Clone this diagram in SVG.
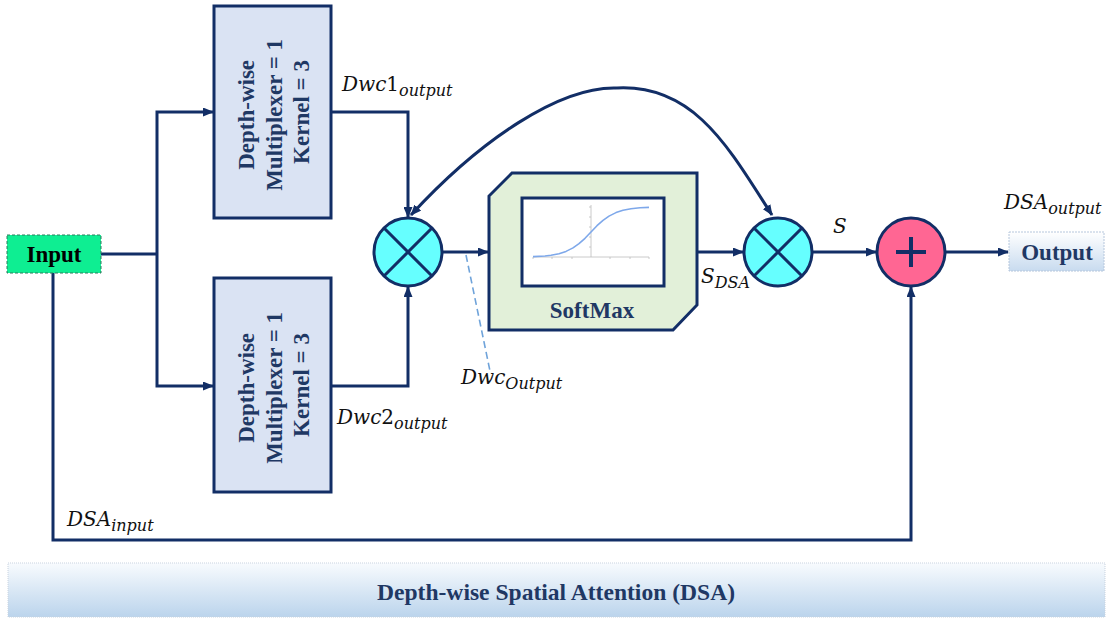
<svg xmlns="http://www.w3.org/2000/svg" width="1112" height="620" viewBox="0 0 1112 620">
  <style>
    .ln { fill: none; stroke: #122E66; stroke-width: 3; }
    .box { fill: #DAE3F3; stroke: #122E66; stroke-width: 3; }
    .boxtxt { font-family: "Liberation Serif", "Times New Roman", serif; font-weight: bold; font-size: 23px; fill: #1F3864; text-anchor: middle; }
    .math { font-family: "DejaVu Serif", "Liberation Serif", serif; font-style: italic; font-size: 20px; fill: #111; }
    .sub { font-size: 16px; }
    .up { font-style: normal; }
    .mul { fill: #66FFFF; stroke: #122E66; stroke-width: 3; }
    .mulx { stroke: #122E66; stroke-width: 3; }
  </style>
  <defs>
    <marker id="arr" markerUnits="userSpaceOnUse" markerWidth="11" markerHeight="9" refX="10" refY="4.5" orient="auto">
      <path d="M0,0 L11,4.5 L0,9 z" fill="#122E66"/>
    </marker>
    <linearGradient id="gOut" x1="0" y1="0" x2="0" y2="1">
      <stop offset="0" stop-color="#FFFFFF"/>
      <stop offset="1" stop-color="#C8DBEF"/>
    </linearGradient>
    <linearGradient id="gBanner" x1="0" y1="0" x2="0" y2="1">
      <stop offset="0" stop-color="#F8FBFE"/>
      <stop offset="1" stop-color="#BBD4EC"/>
    </linearGradient>
  </defs>

  <!-- connectors -->
  <g id="connectors">
    <path class="ln" d="M101,254 H157"/>
    <path class="ln" d="M157,254 V112 H213" marker-end="url(#arr)"/>
    <path class="ln" d="M157,254 V386 H213" marker-end="url(#arr)"/>
    <path class="ln" d="M331,112 H408 V217" marker-end="url(#arr)"/>
    <path class="ln" d="M331,386 H408 V287" marker-end="url(#arr)"/>
    <path class="ln" d="M442,252 H488" marker-end="url(#arr)"/>
    <path class="ln" d="M697,252 H743" marker-end="url(#arr)"/>
    <path class="ln" d="M812,252 H876" marker-end="url(#arr)"/>
    <path class="ln" d="M945,252 H1008" marker-end="url(#arr)"/>
    <path class="ln" d="M53,273 V540 H911 V287" marker-end="url(#arr)"/>
    <!-- arched link between the two multipliers, arrow at both ends -->
    <path class="ln" d="M617,88 C560,86 480,140 411,215" marker-end="url(#arr)"/>
    <path class="ln" d="M617,88 C695,84 730,150 772,215" marker-end="url(#arr)"/>
    <!-- callout for the multiplier output -->
    <path d="M466,255 L490,371" fill="none" stroke="#6FA3DA" stroke-width="1.6" stroke-dasharray="7,4"/>
  </g>

  <!-- input -->
  <g id="input">
    <rect x="7" y="235" width="94" height="38" fill="#0EEE92" stroke="#2C7A5C" stroke-width="1" stroke-dasharray="3,2"/>
    <text x="54" y="262" font-family="Liberation Serif, serif" font-weight="bold" font-size="23" text-anchor="middle" fill="#000">Input</text>
  </g>

  <!-- depth-wise convolution branches -->
  <g id="dwc1">
    <rect class="box" x="214" y="6" width="117" height="212"/>
    <text class="boxtxt" transform="translate(272,112) rotate(-90)">
      <tspan x="0" y="-18">Depth-wise</tspan>
      <tspan x="0" y="10">Multiplexer = 1</tspan>
      <tspan x="0" y="37">Kernel = 3</tspan>
    </text>
  </g>
  <g id="dwc2">
    <rect class="box" x="214" y="278" width="117" height="214"/>
    <text class="boxtxt" transform="translate(272,385) rotate(-90)">
      <tspan x="0" y="-18">Depth-wise</tspan>
      <tspan x="0" y="10">Multiplexer = 1</tspan>
      <tspan x="0" y="37">Kernel = 3</tspan>
    </text>
  </g>

  <!-- first multiplier -->
  <g id="mult1">
    <circle class="mul" cx="408" cy="252" r="34"/>
    <path class="mulx" d="M384,228 L432,276 M432,228 L384,276"/>
  </g>

  <!-- softmax block -->
  <g id="softmax">
    <polygon points="512,173 697,173 697,305 673,330 489,330 489,196" fill="#E2F0D9" stroke="#122E66" stroke-width="3"/>
    <rect x="522" y="198" width="142" height="88" fill="#FFFFFF" stroke="#122E66" stroke-width="3"/>
    <g stroke="#BDBDBD" stroke-width="0.8">
      <path d="M533,257 H649 M591,205 V257"/>
      <path d="M533,257 v2 M552,257 v2 M572,257 v2 M610,257 v2 M630,257 v2 M649,257 v2"/>
      <path d="M589,207 h2 M589,217 h2 M589,227 h2 M589,237 h2 M589,247 h2"/>
    </g>
    <polyline points="533,256.6 545,256 551,255.3 559,253.8 566,251.4 573,247.9 579,243.6 585,238.3 591,232 597,225.7 603,220.4 609,216.1 616,212.6 623,210.3 631,208.7 640,207.8 649,207.4" fill="none" stroke="#7EA8EA" stroke-width="1.6" stroke-linejoin="round"/>
    <text x="592" y="318" font-family="Liberation Serif, serif" font-weight="bold" font-size="23" text-anchor="middle" fill="#1F3864">SoftMax</text>
  </g>

  <!-- second multiplier -->
  <g id="mult2">
    <circle class="mul" cx="778" cy="252" r="34"/>
    <path class="mulx" d="M754,228 L802,276 M802,228 L754,276"/>
  </g>

  <!-- residual adder -->
  <g id="add">
    <circle cx="911" cy="252" r="34" fill="#FF6693" stroke="#122E66" stroke-width="3"/>
    <path d="M896,252 H926 M911,237 V267" stroke="#122E66" stroke-width="4"/>
  </g>

  <!-- output -->
  <g id="output">
    <rect x="1009" y="232" width="95" height="39" fill="url(#gOut)" stroke="#B5C6DC" stroke-width="1" stroke-dasharray="2,1"/>
    <text x="1057" y="260" font-family="Liberation Serif, serif" font-weight="bold" font-size="23" text-anchor="middle" fill="#1F3864">Output</text>
  </g>

  <!-- signal labels -->
  <g id="labels">
    <text class="math" x="342" y="91">Dwc<tspan class="up">1</tspan><tspan class="sub" dy="5">output</tspan></text>
    <text class="math" x="337" y="424">Dwc<tspan class="up">2</tspan><tspan class="sub" dy="5">output</tspan></text>
    <text class="math" x="461" y="384">Dwc<tspan class="sub" dy="5">Output</tspan></text>
    <text class="math" x="701" y="283">S<tspan class="sub" dy="5">DSA</tspan></text>
    <text class="math" x="833" y="233">S</text>
    <text class="math" x="1004" y="209">DSA<tspan class="sub" dy="5">output</tspan></text>
    <text class="math" x="67" y="526">DSA<tspan class="sub" dy="5">input</tspan></text>
  </g>

  <!-- title banner -->
  <g id="banner">
    <rect x="8" y="563" width="1097" height="54" fill="url(#gBanner)" stroke="#C9D3DF" stroke-width="1" stroke-dasharray="1,1"/>
    <text x="556" y="600" font-family="Liberation Serif, serif" font-weight="bold" font-size="24" text-anchor="middle" fill="#1F3864" textLength="358" lengthAdjust="spacingAndGlyphs">Depth-wise Spatial Attention (DSA)</text>
  </g>
</svg>
